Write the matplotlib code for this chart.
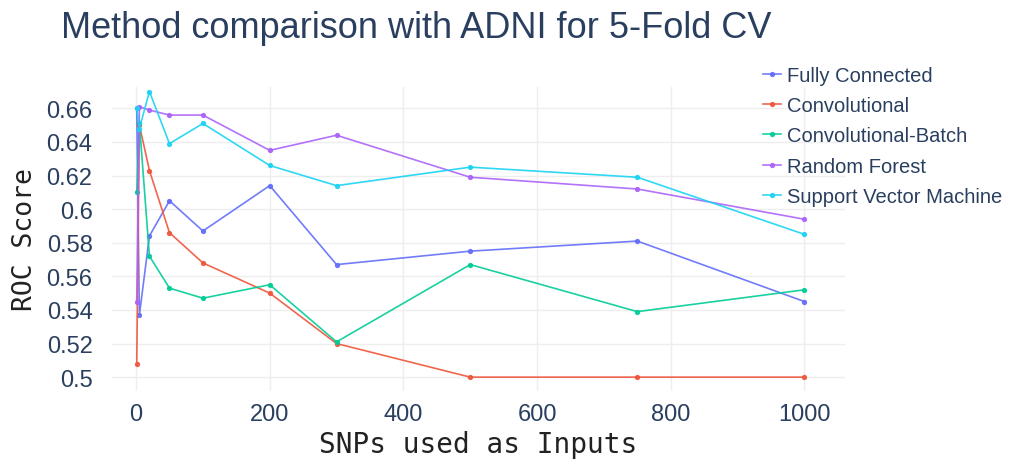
import matplotlib.pyplot as plt

snps = [1, 5, 20, 50, 100, 200, 300, 500, 750, 1000]

scores = {}
scores['Fully Connected'] = [0.660, 0.537, 0.584, 0.605, 0.587, 0.614, 0.567, 0.575, 0.581, 0.545]
scores['Convolutional'] = [0.508, 0.650, 0.623, 0.586, 0.568, 0.550, 0.520, 0.500, 0.500, 0.500]
scores['Convolutional-Batch'] = [0.610, 0.651, 0.572, 0.553, 0.547, 0.555, 0.521, 0.567, 0.539, 0.552]
scores['Random Forest'] = [0.545, 0.661, 0.659, 0.656, 0.656, 0.635, 0.644, 0.619, 0.612, 0.594]
scores['Support Vector Machine'] = [0.660, 0.648, 0.670, 0.639, 0.651, 0.626, 0.614, 0.625, 0.619, 0.585]

colors = ['#636efa', '#ef553b', '#00cc96', '#ab63fa', '#19d3f3']

yticks = [0.5, 0.52, 0.54, 0.56, 0.58, 0.6, 0.62, 0.64, 0.66]
ytick_labels = ['0.5', '0.52', '0.54', '0.56', '0.58', '0.6', '0.62', '0.64', '0.66']
xticks = [0, 200, 400, 600, 800, 1000]

text_color = '#2a3f5f'

fig = plt.figure(figsize=(10.09, 4.60), dpi=100)
ax = fig.add_axes([0.111, 0.148, 0.726, 0.661])

for (name, vals), c in zip(scores.items(), colors):
    ax.plot(snps, vals, color=c, lw=1.2, marker='o', markersize=2.8, label=name, alpha=0.9)

ax.set_xlim(-36, 1060)
ax.set_ylim(0.4918, 0.6728)
ax.set_xticks(xticks)
ax.set_yticks(yticks)
ax.set_yticklabels(ytick_labels)
ax.grid(True, color='#eeeeee', lw=1)
ax.set_axisbelow(True)
for s in ax.spines.values():
    s.set_visible(False)
ax.tick_params(length=0, colors=text_color, labelsize=17)
ax.tick_params(axis='y', pad=14)
ax.tick_params(axis='x', pad=9)
for lab in ax.get_xticklabels() + ax.get_yticklabels():
    lab.set_family('Liberation Sans')

ax.set_xlabel('SNPs used as Inputs', family='DejaVu Sans Mono', fontsize=20, color='#222222', labelpad=3)
ax.set_ylabel('ROC Score', family='DejaVu Sans Mono', fontsize=19, color='#222222', labelpad=6)

fig.text(0.06, 0.938, 'Method comparison with ADNI for 5-Fold CV', family='Liberation Sans',
         fontsize=26, color=text_color, va='center', ha='left')

legend = fig.legend(loc='upper left', bbox_to_anchor=(0.748, 0.872), frameon=False,
                    prop={'family': 'Liberation Sans', 'size': 14.5}, handlelength=0.92,
                    handletextpad=0.3, labelspacing=0.56, borderaxespad=0)
for t in legend.get_texts():
    t.set_color(text_color)

plt.savefig('out.png', dpi=100)
